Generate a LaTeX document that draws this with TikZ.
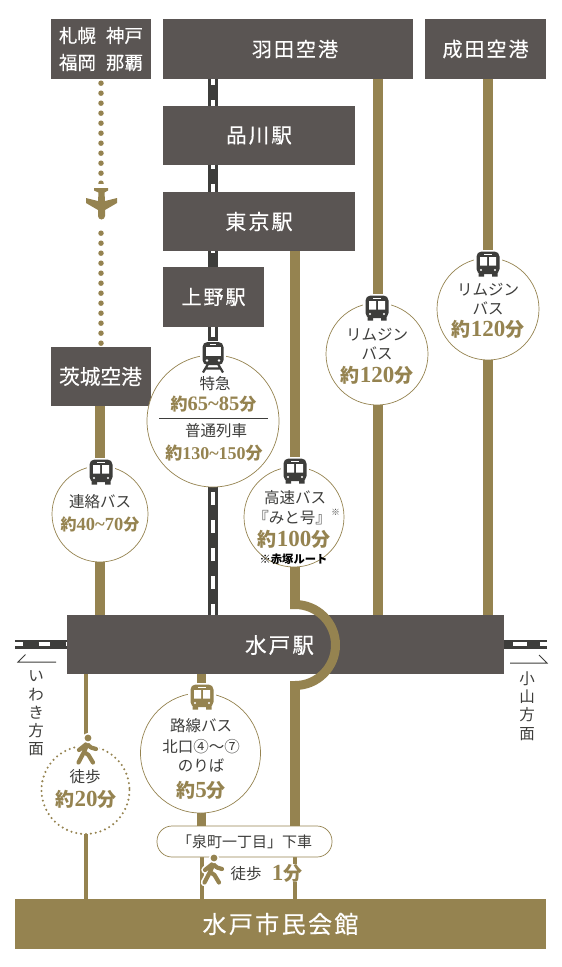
\documentclass[tikz,border=0pt]{standalone}
\usepackage{fontspec}
\usetikzlibrary{calc}
\setmainfont{Noto Sans CJK JP}
\newfontfamily\cj{Noto Sans CJK JP}
\newfontfamily\cjw[LetterSpace=10,FakeBold=0.4]{Noto Sans CJK JP}
\newfontfamily\cjb[FakeBold=0.4]{Noto Sans CJK JP}
\newfontfamily\nm{Liberation Serif}
\definecolor{gold}{HTML}{958350}
\definecolor{boxc}{HTML}{5A5553}
\definecolor{ink}{HTML}{3D3D3B}
\newcommand{\tmx}[3]{{\color{gold}\fontsize{#1}{20}\selectfont\bfseries\cj 約\nm\fontsize{#2}{20}\selectfont\bfseries #3\cj\fontsize{#1}{20}\selectfont\bfseries 分}}
\newcommand{\tm}[1]{\tmx{19}{23}{#1}}
\pgfdeclarelayer{under}
\pgfdeclarelayer{over}
\pgfsetlayers{under,main,over}
\tikzset{
 x=1pt,y=-1pt,
 boxn/.style={fill=boxc,inner sep=0pt,text=white,align=center,font=\fontsize{20}{27}\selectfont\cjw},
 cnode/.style={circle,draw=gold,line width=0.7pt,fill=white,inner sep=0pt},
 lab/.style={inner sep=0pt,text=ink,align=center,font=\fontsize{15.5}{18}\selectfont},
 gline/.style={draw=gold,line width=9.5pt},
 tline/.style={draw=gold,line width=4pt},
 railb/.style={draw=ink,line width=10pt},
 railw/.style={draw=white,line width=4pt,dash pattern=on 13pt off 15pt},
 vert/.style={inner sep=0pt,text=ink,align=center,font=\fontsize{15.5}{18.3}\selectfont},
 pics/busicon/.style={code={
   \fill[white] (-14,-14) rectangle (14,14);
   \fill[#1,rounded corners=5pt] (-11.5,-12.5) rectangle (11.5,10);
   \fill[#1] (-9.5,8) rectangle (-4,12.5) (9.5,8) rectangle (4,12.5);
   \fill[white] (-8,-7) rectangle (-1,1.5) (1,-7) rectangle (8,1.5);
   \fill[white] (-4,-10.5) rectangle (4,-9.4);
   \fill[white] (-7,6) circle (1.2) (7,6) circle (1.2);
 }},
 pics/trainicon/.style={code={
   \fill[white] (-13,-16) rectangle (13,17);
   \fill[ink,rounded corners=5pt] (-10.5,-15) rectangle (10.5,8);
   \fill[white] (-7.5,-10) rectangle (7.5,-1.5);
   \fill[white] (-3,-13.2) rectangle (3,-12);
   \fill[white] (-6,3.5) circle (1.3) (6,3.5) circle (1.3);
   \draw[ink,line width=2.2pt] (-5,7) -- (-10,15.5) (5,7) -- (10,15.5) (-7.5,11.5) -- (7.5,11.5);
 }},
 pics/walker/.style={code={
   \foreach \c/\w in {white/7.5,gold/4.2}{
     \draw[\c,line width=\w pt,line cap=round,line join=round] (2,-5) -- (-1,2) -- (-6.5,12.5)
       (-1,2) -- (3.5,5) -- (8,12.5)
       (1.5,-6) -- (-6,0) (2,-6) -- (6,-2.5) (6,-2.5) -- (11,-1);
   }
   \fill[white] (3,-12) circle (5.2);
   \fill[gold] (3,-12) circle (3.4);
 }},
}
\begin{document}
\begin{tikzpicture}
\useasboundingbox (0,0) rectangle (562,967);
% Boxes
\node[boxn,minimum width=100,minimum height=60,font=\fontsize{18.5}{27}\selectfont\cjb] (sap) at (101,49) {札幌\hspace{10pt}神戸\\福岡\hspace{10pt}那覇};
\node[boxn,minimum width=250,minimum height=60] (han) at (288,49) {\hspace*{14pt}羽田空港};
\node[boxn,minimum width=120.5,minimum height=60] (nar) at (485.5,49) {成田空港};
\node[boxn,minimum width=192,minimum height=59] (shi) at (259,135.5) {\fontsize{20.5}{27}\selectfont 品川駅};
\node[boxn,minimum width=192,minimum height=59] (tok) at (259,221.5) {\fontsize{21}{27}\selectfont 東京駅};
\node[boxn,minimum width=101,minimum height=60] (ueno) at (213.5,297) {上野駅};
\node[boxn,minimum width=100,minimum height=59,font=\fontsize{20.7}{27}\selectfont\cjb] (iba) at (101,376.5) {\hspace*{-1pt}茨城空港};
\node[boxn,minimum width=437,minimum height=59] (mito) at (285.5,644.5) {};
\node[inner sep=0pt,text=white,font=\fontsize{21.5}{24}\selectfont\cjw] (mitot) at (279.5,645) {水戸駅};
\node[boxn,fill=gold,minimum width=531,minimum height=50,font=\fontsize{24}{26}\selectfont\cjw] (kai) at (280.5,924) {水戸市民会館};
% Anchor x positions
\coordinate (xr) at (213,0);
\coordinate (xa) at (295,0);
\coordinate (xb) at (378,0);
\coordinate (xc) at (488,0);
\coordinate (xd) at (100,0);
\coordinate (xe) at (86,0);
\coordinate (xf) at (201.5,0);
\coordinate (xg) at (101,0);
\coordinate (arcTop) at (295,604.5);
\coordinate (arcBot) at (295,685.5);
\coordinate (lrail) at (15,644);
\coordinate (rrail) at (547,644);
% Pill
\node[draw=gold,line width=0.7pt,fill=white,rounded corners=15pt,minimum width=175,minimum height=31,inner sep=0pt,text=ink,font=\fontsize{15}{18}\selectfont] (pill) at (244.5,841.5) {「泉町一丁目」下車};
\begin{pgfonlayer}{under}
 \draw[railb] (xr |- han.south) -- (xr |- mito.north);
 \draw[railw,dash phase=7pt] (xr |- han.south) -- (xr |- mito.north);
 \draw[railb,line width=9pt] (lrail) -- (lrail -| mito.west);
 \draw[railb,line width=9pt] (rrail) -- (rrail -| mito.east);
 \draw[white,line width=4pt,dash pattern=on 11pt off 16pt,dash phase=3.5pt] (lrail) -- (lrail -| mito.west);
 \draw[white,line width=4pt,dash pattern=on 14pt off 13pt] (rrail -| mito.east) ++(9,0) -- (rrail);
 \draw[gline] (xa |- tok.south) -- (arcTop);
 \draw[gline] (xb |- han.south) -- (xb |- mito.north);
 \draw[gline] (xc |- nar.south) -- (xc |- mito.north);
 \draw[gline] (xd |- iba.south) -- (xd |- mito.north);
 \draw[gline] (xf |- mito.south) -- (xf |- pill.north);
 \draw[gline] (arcBot) -- (xa |- pill.north);
 \draw[tline] (xe |- mito.south) -- (xe |- kai.north);
 \draw[tline] (xf |- pill.south) -- (xf |- kai.north);
 \draw[tline] (xa |- pill.south) -- (xa |- kai.north);
 \draw[draw=gold,line width=5.5pt,line cap=round,dash pattern=on 0pt off 10pt] (xg |- sap.south) ++(0,4) -- (xg |- iba.north);
\end{pgfonlayer}
% arc over Mito box
\begin{pgfonlayer}{over}
 \draw[draw=gold,line width=9pt] ($(arcTop)+(-5,0)$) -- (arcTop) arc[start angle=-90,end angle=90,radius=40.5] -- ($(arcBot)+(-5,0)$);
\end{pgfonlayer}
% Circles
\node[cnode,minimum size=132] (ctrain) at (213,421) {};
\node[cnode,minimum size=100] (cexp) at (294,517) {};
\node[cnode,minimum size=102] (clim1) at (377,354) {};
\node[cnode,minimum size=102] (clim2) at (488,309) {};
\node[cnode,minimum size=96] (cren) at (100,514) {};
\node[cnode,minimum size=120] (crou) at (200.5,753) {};
\node[circle,fill=white,inner sep=0pt,minimum size=88] (cwalk) at (85.5,790) {};
\draw[draw=gold,line width=2.3pt,line cap=round,dash pattern=on 0pt off 4.9pt] (cwalk) circle (44);
% Icons
\pic at (213,357) {trainicon};
\pic at (295,471) {busicon=ink};
\pic at (377,308) {busicon=ink};
\pic at (488,264) {busicon=ink};
\pic at (101,472) {busicon=ink};
\pic at (202,697) {busicon=gold};
\pic at (85,750) {walker};
\pic at (211,870) {walker};
% Plane
\fill[white] (84,184) rectangle (118,226);
\fill[gold] (94,188) -- (108,188) -- (108,190.5) -- (104.5,192.5) -- (105,201) -- (117,198) -- (117,203) -- (105,210) -- (105,216) arc[start angle=0,end angle=180,radius=3.5] -- (98,210) -- (86,203) -- (86,198) -- (98,201) -- (98.5,192.5) -- (94,190.5) -- cycle;
% Labels
\node[lab] (t1) at (215,384) {特急};
\node[inner sep=0pt] (t2) at (213.5,404) {\tmx{17}{20.5}{65\textasciitilde85}};
\coordinate (rl) at (159,418);
\coordinate (rr) at (268,418);
\draw[ink,line width=0.9pt] (rl) -- (rr);
\node[lab] (t3) at (216,431) {普通列車};
\node[inner sep=0pt] (t4) at (214,453) {\tmx{17}{18}{130\textasciitilde150}};
\node[lab] (e1) at (295,498) {高速バス};
\node[lab] (e2) at (292,518) {『みと号』};
\node[inner sep=0pt,text=ink,font=\fontsize{8.5}{10}\selectfont] (e3) at (335.5,512) {※};
\node[inner sep=0pt] (e4) at (294,539) {\tm{100}};
\node[inner sep=0pt,text=black,font=\fontsize{11.3}{12}\selectfont\bfseries] (e5) at (293.5,559) {※赤塚ルート};
\node[lab] (l1) at (377,335) {リムジン};
\node[lab] (l2) at (377,353) {バス};
\node[inner sep=0pt] (l3) at (377,375) {\tm{120}};
\node[lab] (m1) at (488,290) {リムジン};
\node[lab] (m2) at (488,308) {バス};
\node[inner sep=0pt] (m3) at (488,329) {\tm{120}};
\node[lab] (r1) at (100,502) {連絡バス};
\node[inner sep=0pt] (r2) at (100,524) {\tmx{16}{18.5}{40\textasciitilde70}};
\node[lab] (b1) at (201,726) {路線バス};
\node[lab] (b2) at (201,747) {北口④～⑦};
\node[lab] (b3) at (201,765) {のりば};
\node[inner sep=0pt] (b4) at (201,790) {\tm{5}};
\node[lab] (w1) at (85,777) {徒歩};
\node[inner sep=0pt] (w2) at (86,799) {\tm{20}};
\node[lab] (f1) at (246,874) {徒歩};
\node[inner sep=0pt,fill=white] (f2) at (287,873) {{\color{gold}\nm\fontsize{23}{20}\selectfont\bfseries 1\cj\fontsize{19}{20}\selectfont\bfseries 分}};
\node[vert] (iw) at (36,713.5) {い\\わ\\き\\方\\面};
\node[vert] (oy) at (527,706) {小\\山\\方\\面};
% Direction marks
\coordinate (a1) at (18,662);
\coordinate (a2) at (25.5,654.5);
\coordinate (a3) at (56,662);
\draw[ink,line width=1pt] (a2) -- (a1) -- (a3);
\coordinate (c1) at (547,663);
\coordinate (c2) at (539,655);
\coordinate (c3) at (510,663);
\draw[ink,line width=1pt] (c2) -- (c1) -- (c3);
\end{tikzpicture}
\end{document}
